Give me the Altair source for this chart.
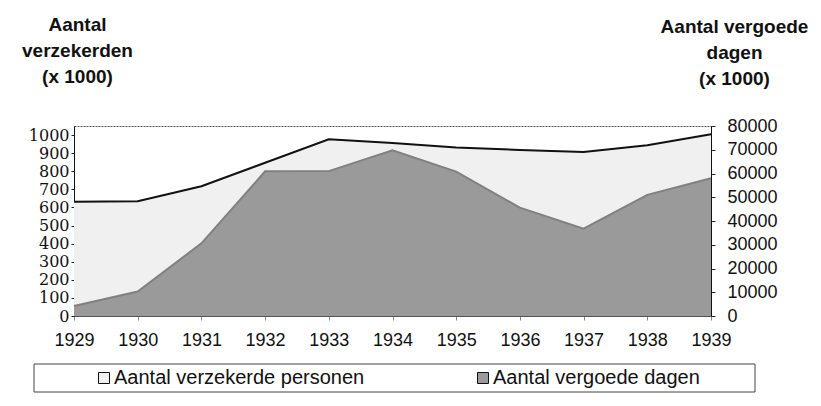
import altair as alt
import pandas as pd

jaren = [1929, 1930, 1931, 1932, 1933, 1934, 1935, 1936, 1937, 1938, 1939]
# Aantal verzekerden (x 1000), linker as
verzekerden = [632, 634, 717, 847, 977, 956, 931, 918, 907, 944, 1004]
# Aantal vergoede dagen (x 1000), rechter as
vergoede_dagen = [4200, 10300, 30600, 60900, 61000, 69800, 60800, 45600, 36800, 51000, 58000]

reeksen = ["Aantal verzekerde personen", "Aantal vergoede dagen"]
kleuren = ["#f0f0f0", "#9a9a9a"]

df = pd.DataFrame({"jaar": jaren, "verzekerden": verzekerden, "dagen": vergoede_dagen})

x_enc = alt.X(
    "jaar:Q",
    scale=alt.Scale(domain=[1929, 1939], nice=False, zero=False),
    axis=alt.Axis(
        values=jaren, format="d", title=None, grid=False,
        labelFont="Liberation Sans", labelFontSize=18, labelColor="#111",
        labelPadding=11, tickSize=4, tickColor="#888", domainColor="#555",
        labelFlush=False, labelOverlap=False,
    ),
)

kleur_schaal = alt.Scale(domain=reeksen, range=kleuren)
legenda = alt.Legend(
    title=None, orient="none", legendX=-40, legendY=238,
    direction="horizontal", columns=2,
    symbolType="square", symbolSize=121, symbolStrokeColor="#111",
    symbolStrokeWidth=1, symbolOffset=56, labelOffset=0,
    labelFont="Liberation Sans", labelFontSize=20, labelColor="#111",
    labelLimit=400, columnPadding=52, padding=4,
)

base_a = alt.Chart(df).encode(
    x=x_enc,
    y=alt.Y(
        "verzekerden:Q",
        scale=alt.Scale(domain=[0, 1050], nice=False),
        axis=alt.Axis(
            orient="left", values=list(range(0, 1001, 100)), format="d", grid=False,
            labelFont="DejaVu Serif", labelFontSize=16, labelColor="#111",
            labelPadding=2, tickSize=3, tickColor="#222", domainColor="#111",
            labelOverlap=False, labelFlush=False,
            title=["Aantal", "verzekerden", "(x 1000)"],
            titleAngle=0, titleAlign="center", titleBaseline="alphabetic",
            titleX=3, titleY=-96, titleFont="Liberation Sans", titleFontWeight="bold",
            titleFontSize=19, titleLineHeight=26, titleColor="#111",
        ),
    ),
)

area_a = base_a.mark_area(opacity=1).transform_calculate(
    reeks="'" + reeksen[0] + "'"
).encode(color=alt.Color("reeks:N", scale=kleur_schaal, legend=legenda, sort=reeksen))
line_a = base_a.mark_line(color="#111", strokeWidth=2)
laag_a = alt.layer(area_a, line_a)

base_b = alt.Chart(df).encode(
    x=x_enc,
    y=alt.Y(
        "dagen:Q",
        scale=alt.Scale(domain=[0, 80000], nice=False),
        axis=alt.Axis(
            orient="right", values=list(range(0, 80001, 10000)), format="d", grid=False,
            labelFont="Liberation Sans", labelFontSize=18, labelColor="#111",
            labelPadding=12, tickSize=4, tickColor="#222", domainColor="#111",
            labelOverlap=False, labelFlush=False,
            title=["Aantal vergoede", "dagen", "(x 1000)"],
            titleAngle=0, titleAlign="center", titleBaseline="alphabetic",
            titleX=23, titleY=-94, titleFont="Liberation Sans", titleFontWeight="bold",
            titleFontSize=19, titleLineHeight=26, titleColor="#111",
        ),
    ),
)

area_b = base_b.mark_area(opacity=1).transform_calculate(
    reeks="'" + reeksen[1] + "'"
).encode(color=alt.Color("reeks:N", scale=kleur_schaal, legend=legenda, sort=reeksen))
line_b = base_b.mark_line(color="#808080", strokeWidth=2)
laag_b = alt.layer(area_b, line_b)

# kader rond de legenda
legenda_kader = alt.Chart(pd.DataFrame({"k": [0]})).mark_rect(
    fill=None, stroke="#444", strokeWidth=1
).encode(
    x=alt.value(-40), x2=alt.value(681), y=alt.value(238), y2=alt.value(266)
)

chart = (
    alt.layer(laag_a, laag_b, legenda_kader)
    .resolve_scale(y="independent")
    .properties(
        width=637, height=190,
        autosize=alt.AutoSizeParams(type="none"),
        padding={"left": 66, "top": 118, "right": 102, "bottom": 78},
        background="white",
    )
    .configure_view(stroke="#555", strokeDash=[2, 1], strokeWidth=1)
)

chart.save("out.html", embed_options={"renderer": "svg", "actions": False})
